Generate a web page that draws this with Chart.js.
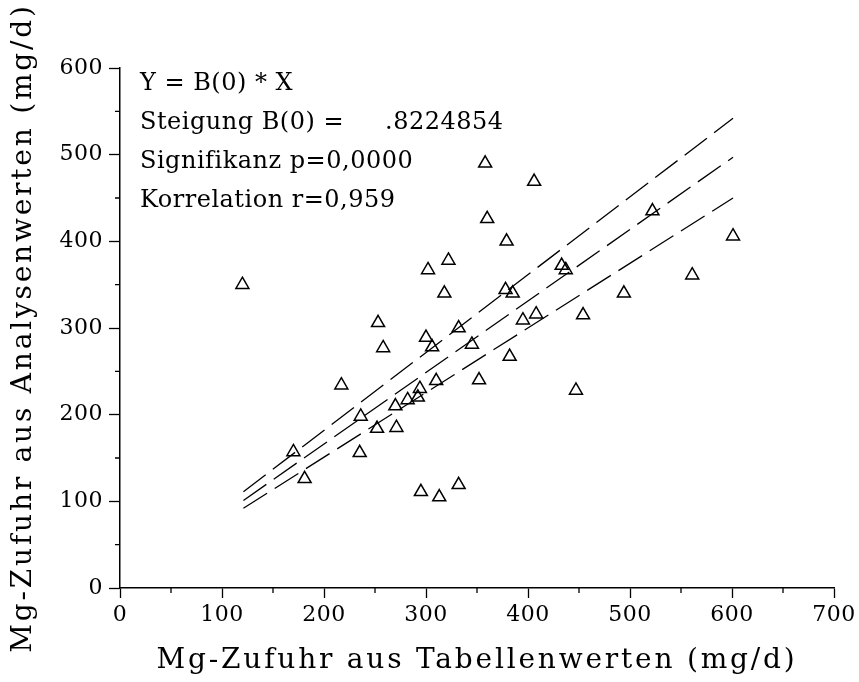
<!DOCTYPE html>
<html>
<head>
<meta charset="utf-8">
<script src="https://cdn.jsdelivr.net/npm/chart.js@4"></script>
<style>
  body { margin: 0; background: #fff; }
  #wrap { width: 859px; height: 682px; }
</style>
</head>
<body>
<div id="wrap"><canvas id="mgChart"></canvas></div>
<script>
// Mg-Zufuhr: Tabellenwerte (x) gegen Analysenwerte (y), mg/d
const tabX = [120, 170, 181, 217, 236, 235, 252, 253, 258, 271, 270, 282, 292, 294, 295,
              300, 306, 302, 310, 313, 318, 322, 332, 332, 345, 352, 358, 360, 379, 378,
              385, 382, 395, 408, 406, 433, 437, 447, 454, 494, 522, 561, 601];
const anaY = [350, 157, 126, 234, 198, 156, 184, 306, 277, 185, 210, 217, 220, 230, 111,
              289, 278, 367, 239, 105, 340, 378, 119, 300, 281, 240, 490, 426, 400, 344,
              340, 267, 309, 316, 469, 372, 367, 228, 315, 340, 435, 361, 406];

// Y = B(0) * X and the two dashed bounds, read at their end points
const lineX  = [121, 601];
const upperY = [111, 542];
const fitY   = [101, 497];
const lowerY = [92, 450];

const xTicks = [0, 100, 200, 300, 400, 500, 600, 700];
const yTicks = [0, 100, 200, 300, 400, 500, 600];
const xMinor = [50, 150, 250, 350, 450, 550, 650];
const yMinor = [50, 150, 250, 350, 450, 550];

const noteLines = ['Y = B(0) * X', 'Steigung B(0) =', 'Signifikanz p=0,0000', 'Korrelation r=0,959'];
const slopeText = '.8224854';

const serif = 'DejaVu Serif';

const pts = (xs, ys) => xs.map((x, i) => ({ x: x, y: ys[i] }));

// the old plotter font is wide, so spread the letters a little
const spaced = (fn, sp) => function (...args) {
  const c = this.ctx;
  c.save();
  c.letterSpacing = sp;
  fn.apply(this, args);
  c.restore();
};

const extras = {
  id: 'extras',
  beforeDraw(chart) {
    Object.values(chart.scales).forEach(s => {
      if (s._spaced) return;
      s.drawTitle = spaced(s.drawTitle, '2.8px');
      s.drawLabels = spaced(s.drawLabels, '0.5px');
      s._spaced = true;
    });
  },
  afterDraw(chart) {
    const { ctx, chartArea, scales } = chart;
    ctx.save();
    // minor ticks
    ctx.strokeStyle = '#000';
    ctx.lineWidth = 1.3;
    ctx.beginPath();
    xMinor.forEach(v => {
      const px = scales.x.getPixelForValue(v);
      ctx.moveTo(px, chartArea.bottom);
      ctx.lineTo(px, chartArea.bottom + 5);
    });
    yMinor.forEach(v => {
      const py = scales.y.getPixelForValue(v);
      ctx.moveTo(chartArea.left, py);
      ctx.lineTo(chartArea.left - 5, py);
    });
    ctx.stroke();
    // regression note
    ctx.fillStyle = '#000';
    ctx.font = '24px "' + serif + '"';
    ctx.letterSpacing = '0.5px';
    ctx.textBaseline = 'alphabetic';
    const x0 = chartArea.left + 20;
    noteLines.forEach((t, i) => ctx.fillText(t, x0, chartArea.top + 21.5 + i * 39.3));
    ctx.fillText(slopeText, chartArea.left + 265, chartArea.top + 21.5 + 39.3);
    ctx.restore();
  }
};

const dashed = (ys) => ({
  data: pts(lineX, ys),
  showLine: true,
  borderColor: '#000',
  borderWidth: 1.3,
  borderDash: [28, 9],
  pointRadius: 0,
  fill: false
});

new Chart(document.getElementById('mgChart'), {
  type: 'scatter',
  data: {
    datasets: [
      {
        label: 'Messwerte',
        data: pts(tabX, anaY),
        pointStyle: 'triangle',
        pointRadius: 7.5,
        pointBorderColor: '#000',
        pointBackgroundColor: 'rgba(0,0,0,0)',
        pointBorderWidth: 1.5
      },
      dashed(upperY),
      dashed(fitY),
      dashed(lowerY)
    ]
  },
  options: {
    responsive: true,
    maintainAspectRatio: false,
    animation: false,
    layout: { padding: { top: 68, right: 19, left: 0, bottom: 0 } },
    plugins: {
      legend: { display: false },
      tooltip: { enabled: false }
    },
    scales: {
      x: {
        type: 'linear',
        min: 0,
        max: 700,
        afterBuildTicks: s => { s.ticks = xTicks.map(v => ({ value: v })); },
        afterFit: s => { s.height = 94; },
        border: { display: true, color: '#000', width: 1.5 },
        grid: { drawOnChartArea: false, tickLength: 10, tickColor: '#000', tickWidth: 1.3 },
        ticks: { color: '#000', font: { family: serif, size: 22 }, padding: 4, maxRotation: 0, autoSkip: false },
        title: {
          display: true,
          text: 'Mg-Zufuhr aus Tabellenwerten (mg/d)',
          color: '#000',
          font: { family: serif, size: 28 },
          padding: { top: 0, bottom: 4 }
        }
      },
      y: {
        type: 'linear',
        min: 0,
        max: 600,
        afterBuildTicks: s => { s.ticks = yTicks.map(v => ({ value: v })); },
        afterFit: s => { s.width = 120; },
        border: { display: true, color: '#000', width: 1.5 },
        grid: { drawOnChartArea: false, tickLength: 11, tickColor: '#000', tickWidth: 1.3 },
        ticks: { color: '#000', font: { family: serif, size: 22 }, padding: 6, autoSkip: false },
        title: {
          display: true,
          text: 'Mg-Zufuhr aus Analysenwerten (mg/d)',
          color: '#000',
          font: { family: serif, size: 28 },
          padding: { top: 7, bottom: 0 }
        }
      }
    }
  },
  plugins: [extras]
});
</script>
</body>
</html>
